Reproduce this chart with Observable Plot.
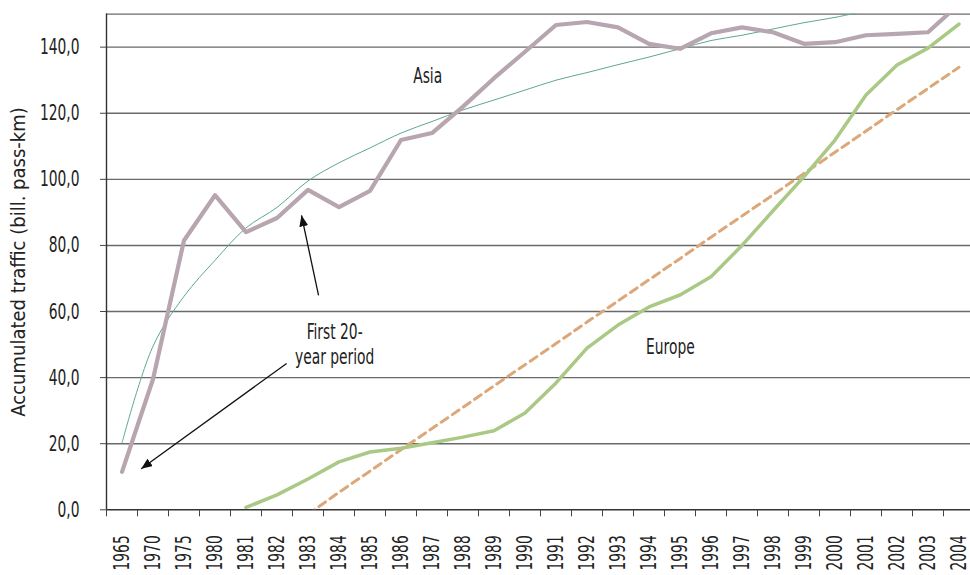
<!DOCTYPE html>
<html><head><meta charset="utf-8">
<script src="https://cdn.jsdelivr.net/npm/d3@7"></script>
<script src="https://cdn.jsdelivr.net/npm/@observablehq/plot@0.6"></script>
<style>body{margin:0;background:#fff}</style>
</head><body><div id="chart"></div>
<script>
// Category labels (x axis)
const years = ["1965","1970","1975","1980","1981","1982","1983","1984","1985","1986","1987","1988","1989","1990","1991","1992","1993","1994","1995","1996","1997","1998","1999","2000","2001","2002","2003","2004"];

// Asia accumulated traffic (bill. pass-km), from 1965
const asiaValues = [11.5, 39.5, 81.5, 95.2, 84.0, 88.3, 96.8, 91.6, 96.5, 111.9, 114.0, 122.0, 130.6, 138.6, 146.7, 147.6, 146.0, 141.0, 139.5, 144.2, 146.0, 144.5, 141.0, 141.5, 143.6, 144.0, 144.5, 153.0];

// Thin smooth Asia trend curve, from 1965
const asiaTrendValues = [20.2, 49.5, 64.6, 75.5, 85.3, 91.5, 99.5, 105.0, 109.5, 114.0, 117.5, 121.0, 124.0, 127.0, 130.0, 132.3, 134.7, 137.0, 139.5, 142.0, 143.6, 145.5, 147.4, 149.0, 151.0];

// Europe accumulated traffic, from 1981
const europeStart = "1981";
const europeValues = [0.7, 4.5, 9.3, 14.5, 17.5, 18.6, 20.3, 22.0, 23.9, 29.3, 38.4, 48.9, 55.9, 61.4, 65.0, 70.5, 80.0, 90.5, 100.8, 111.9, 125.5, 134.6, 139.7, 147.0];

// Europe linear trend (dashed), from 1983
const europeTrendStart = "1983";
const europeTrendValues = [-1.4, 5.3, 11.7, 18.2, 24.6, 31.0, 37.5, 43.9, 50.3, 56.8, 63.2, 69.6, 76.0, 82.5, 88.9, 95.3, 101.8, 108.2, 114.6, 121.1, 127.5, 133.9];

// Y axis ticks
const yTicks = [0, 20, 40, 60, 80, 100, 120, 140];
const yMax = 150;

// Annotations (data coordinates: x = category index, y = value)
const noteText = ["Asia", "First 20-\nyear period", "Europe"];
const noteX = [9.86, 6.86, 17.69];
const noteY = [131.7, 50.4, 49.7];
const arrowX1 = [6.34, 5.31], arrowY1 = [64.9, 44.3];
const arrowX2 = [5.79, 0.62], arrowY2 = [89.1, 12.4];

const seriesFrom = (start, vals) => {
  const s = years.indexOf(start);
  return vals.map((v, k) => ({x: s + k, v}));
};
const asia = seriesFrom(years[0], asiaValues);
const asiaTrend = seriesFrom(years[0], asiaTrendValues);
const europe = seriesFrom(europeStart, europeValues);
const europeTrend = seriesFrom(europeTrendStart, europeTrendValues);
const notes = noteText.map((t, k) => ({t, x: noteX[k], y: noteY[k]}));
const arrows = arrowX1.map((_, k) => ({x1: arrowX1[k], y1: arrowY1[k], x2: arrowX2[k], y2: arrowY2[k]}));

const idx = years.map((_, i) => i);
const bounds = d3.range(years.length + 1).map(i => i - 0.5);

function triangleHead(color, context) {
  const m = d3.create("svg:marker", context)
    .attr("viewBox", "-11 -4.5 11 9")
    .attr("markerUnits", "userSpaceOnUse")
    .attr("markerWidth", 11)
    .attr("markerHeight", 9)
    .attr("refX", 0).attr("refY", 0)
    .attr("orient", "auto");
  m.append("path").attr("d", "M-11,-4.5L0,0L-11,4.5Z").attr("fill", color).attr("stroke", "none");
  return m.node();
}

const W = 970, H = 575;
const chart = Plot.plot({
  width: W, height: H,
  marginLeft: 106, marginRight: 0, marginTop: 13.6, marginBottom: 65.7,
  style: {fontFamily: "'Liberation Sans Narrow', 'DejaVu Sans Condensed', 'Arial Narrow', sans-serif", fontSize: "20px", color: "#222", background: "#fff"},
  x: {type: "linear", domain: [-0.5, years.length - 0.5], range: [106, 106 + 31 * years.length]},
  y: {domain: [0, yMax]},
  marks: [
    Plot.ruleY([...yTicks.slice(1), yMax], {stroke: "#6a6a6a", strokeWidth: 1.4}),
    Plot.ruleY([0], {stroke: "#333", strokeWidth: 1.4}),
    Plot.ruleX([-0.5], {y1: 0, y2: yMax, stroke: "#333", strokeWidth: 1.4}),
    Plot.axisY({ticks: yTicks, tickSize: 6, tickPadding: 21, tickFormat: d => d.toFixed(1).replace(".", ","),
      label: "Accumulated traffic (bill. pass-km)", labelAnchor: "center", labelOffset: 96, labelArrow: false, stroke: "#444"}),
    Plot.axisX({ticks: bounds, tickSize: 7, tickFormat: () => "", label: null, stroke: "#444"}),
    Plot.axisX({ticks: idx, tickSize: 0, tickPadding: 25.5, tickRotate: -90, tickFormat: i => years[i], label: null}),
    Plot.line(europeTrend, {x: "x", y: "v", stroke: "#dca779", strokeWidth: 3, strokeDasharray: "8,5.5", clip: true}),
    Plot.line(asiaTrend, {x: "x", y: "v", stroke: "#5ea78f", strokeWidth: 1, curve: "catmull-rom", clip: true}),
    Plot.line(europe, {x: "x", y: "v", stroke: "#a9c985", strokeWidth: 3.5, clip: true}),
    Plot.line(asia, {x: "x", y: "v", stroke: "#b7a5af", strokeWidth: 4.2, clip: true}),
    Plot.link(arrows, {x1: "x1", y1: "y1", x2: "x2", y2: "y2", stroke: "#111", strokeWidth: 1.3, markerEnd: triangleHead}),
    Plot.text(notes, {x: "x", y: "y", text: "t", fill: "#222", lineHeight: 1.14})
  ]
});

// Condense the labels to match the narrow, tall typeface of the original
function squeeze(sel, sx, sy) {
  chart.querySelectorAll(sel).forEach(t => {
    const tr = t.getAttribute("transform");
    if (tr) t.setAttribute("transform", tr + ` scale(${sx},${sy})`);
    else {
      const x = +t.getAttribute("x") || 0, y = +t.getAttribute("y") || 0;
      t.setAttribute("transform", `translate(${x},${y}) scale(${sx},${sy}) translate(${-x},${-y})`);
    }
  });
}
squeeze('g[aria-label="y-axis tick label"] text', 0.77, 1.1);
squeeze('g[aria-label="x-axis tick label"] text', 0.77, 1.1);
squeeze('g[aria-label="text"] text', 0.77, 1.1);

document.getElementById("chart").appendChild(chart);
</script></body></html>
